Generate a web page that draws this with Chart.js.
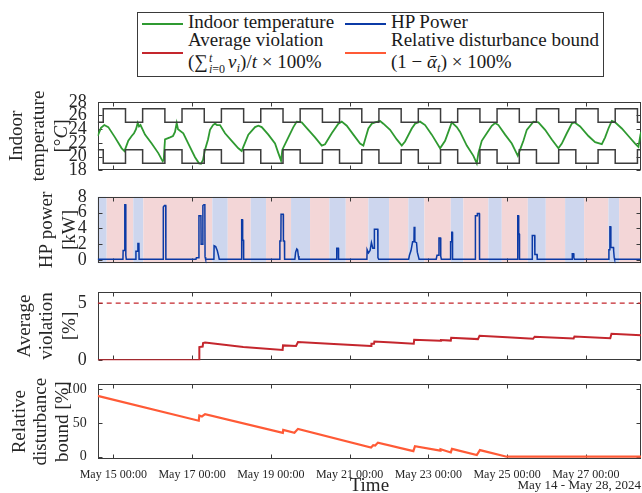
<!DOCTYPE html>
<html>
<head>
<meta charset="utf-8">
<script src="https://cdn.jsdelivr.net/npm/chart.js@4.4.1/dist/chart.umd.min.js"></script>
<style>
  html, body { margin: 0; padding: 0; background: #fff; }
  #wrap { position: relative; width: 642px; height: 493px; overflow: hidden;
          font-family: "Liberation Serif", "DejaVu Serif", serif; color: #1a1a1a; }
  canvas { position: absolute; left: 0; }
  .legend-box { position: absolute; left: 137px; top: 12px; width: 465px; height: 63px;
                border: 1px solid #3a3a3a; background: #fff; }
  .sw { position: absolute; width: 41px; height: 2px; }
  .lt { position: absolute; font-size: 19px; line-height: 20px; white-space: nowrap; }
  .lt sub { font-size: 13px; vertical-align: -4px; line-height: 0; }
  .lim { display: inline-block; vertical-align: -5px; font-size: 12px; line-height: 11px; margin: 0 3px 0 1px; }
  .lim span { display: block; }
</style>
</head>
<body>
<div id="wrap">
  <div class="legend-box"></div>
  <div class="sw" id="swTemp" style="left:142px;top:23px"></div>
  <div class="lt" style="left:188px;top:12px">Indoor temperature</div>
  <div class="sw" id="swPower" style="left:345px;top:23px"></div>
  <div class="lt" style="left:391px;top:12px">HP Power</div>
  <div class="sw" id="swViol" style="left:142px;top:52px"></div>
  <div class="lt" style="left:188px;top:30px">Average violation</div>
  <div class="lt" style="left:188px;top:52px">(∑<span class="lim"><span><i>t</i></span><span><i>i</i>=0</span></span><i>v</i><sub><i>i</i></sub>)/<i>t</i> × 100%</div>
  <div class="sw" id="swBound" style="left:345px;top:52px"></div>
  <div class="lt" style="left:391px;top:30px">Relative disturbance bound</div>
  <div class="lt" style="left:391px;top:52px">(1 − <i>ᾱ</i><sub><i>t</i></sub>) × 100%</div>

  <canvas id="cTemp" width="642" height="96" style="top:88px"></canvas>
  <canvas id="cPower" width="642" height="94" style="top:183px"></canvas>
  <canvas id="cViol" width="642" height="96" style="top:278px"></canvas>
  <canvas id="cBound" width="642" height="120" style="top:373px"></canvas>
</div>
<script>
// time axis: days since May 14 00:00
const timeStart = 0.604;
const timeEnd = 14.40;
const xTicks = [1, 3, 5, 7, 9, 11, 13];
const xTickLabels = ['May 15 00:00', 'May 17 00:00', 'May 19 00:00', 'May 21 00:00',
  'May 23 00:00', 'May 25 00:00', 'May 27 00:00'];
const dateRange = 'May 14 - May 28, 2024';

// indoor temperature [°C]
const tempTime = [
  0.604, 0.688, 0.771, 0.873, 1.043, 1.213, 1.284, 1.335, 1.381, 1.467,
  1.526, 1.577, 1.620, 1.653, 1.691, 1.805, 1.975, 2.143, 2.255, 2.280,
  2.313, 2.440, 2.516, 2.567, 2.610, 2.643, 2.778, 2.905, 3.075, 3.177,
  3.228, 3.278, 3.329, 3.405, 3.456, 3.532, 3.583, 3.634, 3.710, 3.837,
  4.007, 4.175, 4.261, 4.302, 4.429, 4.599, 4.683, 4.769, 4.937, 5.107,
  5.191, 5.260, 5.293, 5.445, 5.572, 5.658, 5.785, 5.953, 6.123, 6.293,
  6.377, 6.547, 6.715, 6.801, 6.928, 7.096, 7.266, 7.350, 7.411, 7.477,
  7.563, 7.647, 7.774, 7.858, 8.028, 8.198, 8.325, 8.409, 8.579, 8.663,
  8.790, 8.917, 9.087, 9.298, 9.425, 9.552, 9.595, 9.722, 9.806, 9.976,
  10.144, 10.230, 10.271, 10.357, 10.484, 10.611, 10.695, 10.779, 10.949, 11.119,
  11.272, 11.330, 11.414, 11.500, 11.668, 11.795, 11.965, 12.135, 12.303, 12.389,
  12.516, 12.643, 12.709, 12.854, 13.065, 13.235, 13.405, 13.489, 13.573, 13.659,
  13.743, 13.913, 14.081, 14.251, 14.335, 14.386, 14.404
];
const tempValue = [
  23.0, 24.2, 24.6, 24.3, 22.8, 21.2, 20.8, 21.6, 22.3, 23.0,
  23.4, 24.0, 24.9, 24.4, 24.6, 23.2, 21.9, 20.5, 19.3, 19.5,
  22.5, 22.8, 23.0, 23.6, 24.9, 24.0, 23.4, 21.9, 19.9, 19.0,
  18.95, 19.5, 21.0, 22.5, 23.9, 24.6, 24.8, 24.6, 24.6, 23.4,
  22.3, 21.2, 20.8, 21.4, 23.2, 24.3, 24.5, 24.3, 23.2, 21.9,
  20.5, 19.4, 21.0, 22.8, 24.3, 25.1, 25.0, 23.9, 22.8, 21.6,
  21.8, 23.4, 24.8, 25.1, 24.5, 23.2, 21.9, 21.6, 22.8, 24.1,
  24.8, 25.0, 25.2, 24.8, 23.9, 22.5, 21.6, 22.2, 24.1, 24.8,
  25.1, 24.6, 23.2, 21.2, 22.3, 24.3, 25.0, 24.3, 23.6, 21.6,
  20.1, 19.0, 20.5, 22.3, 23.4, 24.5, 24.9, 24.6, 23.2, 21.9,
  20.1, 21.0, 22.3, 23.9, 25.1, 25.0, 23.9, 22.5, 21.2, 21.9,
  23.4, 24.8, 25.0, 24.4, 23.0, 22.1, 21.8, 22.8, 24.1, 25.2,
  25.0, 24.1, 23.0, 21.9, 21.4, 23.2, 23.6
];

// comfort band switch times and limits
const bandTime = [
  0.604, 0.745, 1.31, 1.745, 2.31, 2.745, 3.31, 3.745, 4.31, 4.745,
  5.31, 5.745, 6.31, 6.745, 7.31, 7.745, 8.31, 8.745, 9.31, 9.745,
  10.31, 10.745, 11.31, 11.745, 12.31, 12.745, 13.31, 13.745, 14.31, 14.40
];
const upperBand = [
  25, 27, 25, 27, 25, 27, 25, 27, 25, 27, 25, 27, 25, 27, 25,
  27, 25, 27, 25, 27, 25, 27, 25, 27, 25, 27, 25, 27, 25, 25
];
const lowerBand = [
  21, 19, 21, 19, 21, 19, 21, 19, 21, 19, 21, 19, 21, 19, 21,
  19, 21, 19, 21, 19, 21, 19, 21, 19, 21, 19, 21, 19, 21, 21
];

// heat pump power [kW]
const hpTime = [
  0.604, 1.245, 1.250, 1.290, 1.292, 1.315, 1.318, 1.330,
  1.570, 1.575, 1.620, 1.625, 1.650, 1.655,
  2.265, 2.270, 2.300, 2.330, 2.335,
  3.100, 3.110, 3.170, 3.175, 3.225, 3.230, 3.270, 3.275, 3.300, 3.325, 3.330, 3.345,
  3.555, 3.560, 3.600, 3.640, 3.670, 3.690,
  4.255, 4.260, 4.280, 4.285, 4.305, 4.310,
  5.225, 5.230, 5.255, 5.260, 5.315, 5.320, 5.345, 5.350,
  5.610, 5.630, 5.660, 5.680, 5.700, 5.715,
  6.670, 6.675, 6.715, 6.720,
  7.440, 7.445, 7.480, 7.520, 7.555, 7.590, 7.625, 7.630, 7.715, 7.720, 7.740,
  8.500, 8.520, 8.560, 8.600, 8.635, 8.640, 8.655, 8.660, 8.700, 8.720, 8.750, 8.765,
  9.200, 9.220, 9.265, 9.270, 9.310, 9.315, 9.330,
  9.560, 9.565, 9.590, 9.595, 9.610, 9.615,
  10.190, 10.195, 10.240, 10.245, 10.295, 10.300,
  11.265, 11.270, 11.290, 11.295, 11.310, 11.315,
  11.635, 11.640, 11.700, 11.705, 11.760, 11.765,
  12.650, 12.655, 12.690, 12.695, 12.710,
  13.580, 13.585, 13.605, 13.610, 13.630, 13.635, 13.700, 13.705, 13.720, 13.730,
  14.400
];
const hpPower = [
  0.1, 0.1, 1.2, 1.2, 7.0, 7.0, 0.6, 0.1,
  0.1, 1.1, 1.1, 2.1, 2.1, 0.1,
  0.1, 6.7, 6.9, 6.9, 0.1,
  0.1, 0.3, 0.3, 5.6, 5.6, 2.0, 2.0, 6.9, 7.0, 7.0, 0.4, 0.1,
  0.1, 1.8, 1.7, 1.2, 0.6, 0.1,
  0.1, 5.1, 5.1, 2.5, 2.5, 0.1,
  0.1, 2.4, 2.4, 5.8, 5.8, 2.4, 2.4, 0.1,
  0.1, 1.0, 1.4, 1.3, 0.5, 0.1,
  0.1, 1.5, 1.5, 0.1,
  0.1, 1.3, 0.9, 1.2, 2.2, 1.5, 1.5, 3.9, 3.9, 0.3, 0.1,
  0.1, 0.6, 1.2, 2.3, 2.3, 4.2, 4.2, 2.3, 2.2, 1.0, 0.4, 0.1,
  0.1, 0.6, 0.6, 2.8, 2.8, 0.5, 0.1,
  0.1, 2.3, 2.3, 3.5, 3.5, 0.1,
  0.1, 5.6, 5.6, 5.9, 5.9, 0.1,
  0.1, 5.6, 5.6, 3.3, 3.3, 0.1,
  0.1, 3.1, 3.1, 0.7, 0.7, 0.1,
  0.1, 0.8, 0.8, 0.3, 0.1,
  0.1, 1.3, 1.3, 4.2, 4.2, 1.6, 1.6, 1.2, 0.3, 0.1,
  0.1
];

// shaded periods behind the power trace (0 = blue, 1 = red)
const shadeEdges = [
  0.604, 0.832, 1.508, 1.762, 3.515, 3.906, 4.490, 4.879, 5.514, 5.996,
  6.486, 6.903, 7.477, 8.003, 8.493, 8.899, 9.570, 9.890, 10.525, 10.865,
  11.526, 11.983, 12.473, 12.956, 13.573, 13.845, 14.400
];
const shadeKind = [0, 1, 0, 1, 0, 1, 0, 1, 0, 1, 0, 1, 0, 1, 0, 1, 0, 1, 0, 1, 0, 1, 0, 1, 0, 1];

// average violation [%]
const violTime = [
  0.604, 3.180, 3.185, 3.270, 3.280, 3.330, 4.300, 5.300, 5.310, 5.640,
  5.690, 6.600, 7.545, 7.555, 7.620, 7.630, 8.100, 8.630, 8.640, 9.310,
  9.320, 9.570, 9.580, 10.260, 10.300, 11.000, 11.660, 11.700, 12.690, 12.710,
  13.620, 13.650, 14.400
];
const violValue = [
  0, 0, 1.15, 1.20, 1.50, 1.55, 1.15, 0.90, 1.30, 1.25,
  1.60, 1.42, 1.25, 1.45, 1.45, 1.63, 1.55, 1.45, 1.80, 1.70,
  1.77, 1.72, 1.97, 1.85, 2.15, 2.02, 1.88, 2.06, 1.91, 2.08,
  1.92, 2.31, 2.18
];
const violLimit = 5;

// relative disturbance bound [%]
const boundTime = [
  0.604, 3.170, 3.185, 3.250, 3.330, 5.305, 5.315, 5.600, 5.690, 7.545,
  7.600, 7.650, 7.720, 8.620, 8.660, 9.300, 9.310, 9.570, 9.600, 10.230,
  10.310, 10.990, 14.400
];
const boundValue = [
  90.3, 53.4, 61.2, 59.7, 63.1, 35.4, 39.8, 35.4, 41.3, 13.6,
  17.0, 16.5, 20.9, 8.3, 15.6, 9.0, 11.0, 6.3, 11.7, 2.5,
  9.8, 0, 0
];

const INK = '#262626';
const FRAME = '#3a3a3a';
const SERIF = '"Liberation Serif", "DejaVu Serif", serif';
const AXIS_W = 97.7;
const COLORS = {
  temp: '#2f9a31', band: '#3d3d3d', power: '#0b3aa6',
  viol: '#c4262d', bound: '#ff5a36', shade: ['#cdd6ee', '#f3d6d7']
};

Chart.defaults.font.family = SERIF;
Chart.defaults.color = INK;

document.getElementById('swTemp').style.background = COLORS.temp;
document.getElementById('swPower').style.background = COLORS.power;
document.getElementById('swViol').style.background = COLORS.viol;
document.getElementById('swBound').style.background = COLORS.bound;

function points(xs, ys) {
  return xs.map((x, i) => ({x: x, y: ys[i]}));
}

// coloured periods under the power trace
const shade = {
  id: 'shade',
  beforeDatasetsDraw(chart, args, opts) {
    if (!opts.edges) return;
    const {ctx, chartArea: a, scales: {x}} = chart;
    ctx.save();
    opts.kinds.forEach((k, i) => {
      const x0 = x.getPixelForValue(opts.edges[i]);
      const x1 = x.getPixelForValue(opts.edges[i + 1]);
      ctx.fillStyle = opts.colors[k];
      ctx.fillRect(x0, a.top, x1 - x0, a.bottom - a.top);
    });
    ctx.restore();
  }
};

// box around the axes with inward tick marks
const frame = {
  id: 'frame',
  beforeDatasetsDraw(chart) {
    const {ctx, chartArea: a, scales: {x, y}} = chart;
    const L = Math.round(a.left) + 0.5, R = Math.round(a.right) - 0.5;
    const T = Math.round(a.top) + 0.5, B = Math.round(a.bottom) - 0.5;
    ctx.save();
    ctx.strokeStyle = FRAME;
    ctx.lineWidth = 1;
    ctx.strokeRect(L, T, R - L, B - T);
    ctx.beginPath();
    x.ticks.forEach(t => {
      const px = Math.round(x.getPixelForValue(t.value)) + 0.5;
      ctx.moveTo(px, B); ctx.lineTo(px, B - 4);
      ctx.moveTo(px, T); ctx.lineTo(px, T + 4);
    });
    y.ticks.forEach(t => {
      const py = Math.round(y.getPixelForValue(t.value)) + 0.5;
      ctx.moveTo(L, py); ctx.lineTo(L + 4, py);
      ctx.moveTo(R, py); ctx.lineTo(R - 4, py);
    });
    ctx.stroke();
    ctx.restore();
  },
  afterDraw(chart, args, opts) {
    if (!opts.note) return;
    const {ctx, chartArea: a} = chart;
    ctx.save();
    ctx.fillStyle = INK;
    ctx.font = '13px ' + SERIF;
    ctx.textAlign = 'right';
    ctx.textBaseline = 'middle';
    ctx.fillText(opts.note, a.right, opts.y);
    ctx.restore();
  }
};

// multi-line rotated y title, parts may be italic
const sideTitle = {
  id: 'sideTitle',
  afterDraw(chart, args, opts) {
    const {ctx, chartArea: a} = chart;
    const midY = (a.top + a.bottom) / 2;
    const size = opts.size || 19;
    ctx.save();
    ctx.fillStyle = INK;
    ctx.textAlign = 'left';
    ctx.textBaseline = 'middle';
    opts.lines.forEach((line, i) => {
      const parts = typeof line === 'string' ? [{t: line}] : line;
      const fonts = parts.map(p => (p.it ? 'italic ' : '') + size + 'px ' + SERIF);
      const widths = parts.map((p, j) => { ctx.font = fonts[j]; return ctx.measureText(p.t).width; });
      let tx = -widths.reduce((s, w) => s + w, 0) / 2;
      ctx.save();
      ctx.translate(opts.x + i * opts.gap, midY);
      ctx.rotate(-Math.PI / 2);
      parts.forEach((p, j) => {
        ctx.font = fonts[j];
        ctx.fillText(p.t, tx, 0);
        tx += widths[j];
      });
      ctx.restore();
    });
    ctx.restore();
  }
};

function xAxis(showLabels) {
  return {
    type: 'linear',
    min: timeStart,
    max: timeEnd,
    afterBuildTicks: s => { s.ticks = xTicks.map(v => ({value: v})); },
    afterFit: s => { s.height = showLabels ? 34 : 0; },
    grid: {display: false},
    border: {display: false},
    ticks: {
      display: showLabels, autoSkip: false, maxRotation: 0, padding: 2,
      color: INK, font: {size: 12, lineHeight: 1},
      callback: (v, i) => xTickLabels[i]
    },
    title: {display: showLabels, text: 'Time', color: INK, font: {size: 19, lineHeight: 0.7}, padding: 0}
  };
}

function yAxis(min, max, ticks, size) {
  return {
    min: min,
    max: max,
    afterBuildTicks: s => { s.ticks = ticks.map(v => ({value: v})); },
    afterFit: s => { s.width = AXIS_W; },
    grid: {display: false},
    border: {display: false},
    ticks: {autoSkip: false, padding: 3, color: INK, font: {size: size}}
  };
}

function makePanel(id, datasets, y, cfg) {
  return new Chart(document.getElementById(id), {
    type: 'line',
    data: {datasets: datasets},
    plugins: [shade, frame, sideTitle],
    options: {
      responsive: false,
      animation: false,
      events: [],
      layout: {padding: cfg.padding},
      elements: {point: {radius: 0}, line: {tension: 0}},
      plugins: {
        legend: {display: false},
        tooltip: {enabled: false},
        shade: cfg.shade || {},
        frame: cfg.frame || {},
        sideTitle: cfg.title
      },
      scales: {x: xAxis(!!cfg.showTime), y: y}
    }
  });
}

makePanel('cTemp', [
  {data: points(bandTime, upperBand), borderColor: COLORS.band, borderWidth: 1.5, stepped: true},
  {data: points(bandTime, lowerBand), borderColor: COLORS.band, borderWidth: 1.5, stepped: true},
  {data: points(tempTime, tempValue), borderColor: COLORS.temp, borderWidth: 1.8}
], yAxis(18, 28, [18, 20, 22, 24, 26, 28], 18), {
  padding: {top: 11.3, bottom: 9.7, left: 0, right: 1},
  title: {x: 17, gap: 22.5, lines: ['Indoor', 'temperature', [{t: '[°'}, {t: 'C', it: true}, {t: ']'}]]}
});

makePanel('cPower', [
  {data: points(hpTime, hpPower), borderColor: COLORS.power, borderWidth: 1.5}
], yAxis(-0.4, 8, [0, 2, 4, 6, 8], 18), {
  padding: {top: 10.5, bottom: 8.7, left: 0, right: 1},
  shade: {edges: shadeEdges, kinds: shadeKind, colors: COLORS.shade},
  title: {x: 47, gap: 23, lines: ['HP power', '[kW]']}
});

makePanel('cViol', [
  {data: points([timeStart, timeEnd], [violLimit, violLimit]), borderColor: COLORS.viol,
   borderWidth: 1.2, borderDash: [5, 4]},
  {data: points(violTime, violValue), borderColor: COLORS.viol, borderWidth: 2}
], yAxis(0, 6, [0, 5], 18), {
  padding: {top: 10.3, bottom: 9.7, left: 0, right: 1},
  title: {x: 25, gap: 22.5, lines: ['Average', 'violation', '[%]']}
});

makePanel('cBound', [
  {data: points(boundTime, boundValue), borderColor: COLORS.bound, borderWidth: 2.2}
], yAxis(-3.4, 107.3, [0, 50, 100], 14), {
  padding: {top: 10.3, bottom: 0, left: 0, right: 1},
  showTime: true,
  frame: {note: dateRange, y: 113},
  title: {x: 20, gap: 21.5, lines: ['Relative', 'disturbance', 'bound [%]']}
});
</script>
</body>
</html>
